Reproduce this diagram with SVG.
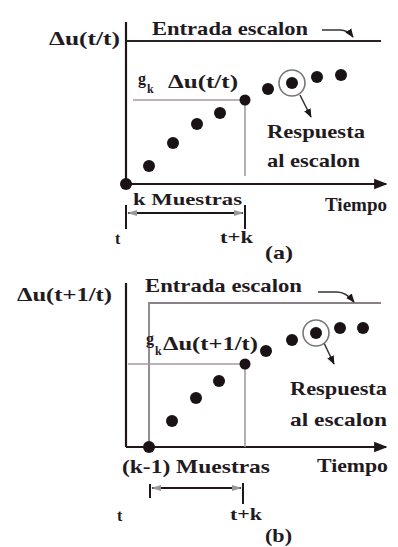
<svg xmlns="http://www.w3.org/2000/svg" width="398" height="547" viewBox="0 0 398 547">
<style>
text{font-family:"Liberation Serif","DejaVu Serif",serif;fill:#221a1e;font-weight:bold}
.lbl{font-size:19px}
.sm{font-size:16px}
.sub{font-size:12px}
.axis{stroke:#1e1619;stroke-width:2.2;fill:none}
.gray{stroke:#a89aa2;stroke-width:1.6;fill:none}
.step{stroke:#2a2226;stroke-width:1.8;fill:none}
.stepb{stroke:#8a8087;stroke-width:1.8;fill:none}
.dot{fill:#1a1216}
.ring{fill:none;stroke:#777;stroke-width:1.6}
.lead{stroke:#333;stroke-width:1.5;fill:none}
.brk{stroke:#1e1619;stroke-width:2;fill:none}
</style>
<defs>
<marker id="ah" viewBox="0 0 10 10" refX="9" refY="5" markerWidth="6" markerHeight="6" orient="auto"><path d="M0,1 L10,5 L0,9 Z" fill="#1e1619"/></marker>
<marker id="ahg" viewBox="0 0 10 10" refX="9" refY="5" markerWidth="5" markerHeight="5" orient="auto-start-reverse"><path d="M0,2 L10,5 L0,8 Z" fill="#999"/></marker>
</defs>

<g id="panel-a">
  <g id="a-connectors">
    <line class="axis" x1="126" y1="22" x2="126" y2="184"/>
    <line class="axis" x1="126" y1="184" x2="386" y2="184" marker-end="url(#ah)"/>
    <line class="step" x1="126" y1="41" x2="381" y2="41"/>
    <polyline class="gray" points="133,100 245,100 245,176"/>
    <path class="lead" d="M322,30 L340,30 Q348,30 353,37" marker-end="url(#ah)"/>
    <line class="lead" x1="300" y1="95" x2="311" y2="117" marker-end="url(#ah)"/>
    <line class="brk" x1="126" y1="205" x2="126" y2="229"/>
    <line class="brk" x1="245" y1="205" x2="245" y2="229"/>
    <line class="brk" x1="128" y1="213" x2="243" y2="213" stroke-width="1.6" marker-start="url(#ahg)" marker-end="url(#ahg)"/>
  </g>
  <g id="a-dots">
    <circle class="dot" cx="126" cy="184" r="6"/>
    <circle class="dot" cx="149" cy="166" r="6"/>
    <circle class="dot" cx="173" cy="143" r="6"/>
    <circle class="dot" cx="197" cy="124" r="6"/>
    <circle class="dot" cx="220" cy="113" r="6"/>
    <circle class="dot" cx="245" cy="100" r="5.5"/>
    <circle class="dot" cx="268" cy="89" r="6"/>
    <circle class="ring" cx="292" cy="83" r="13"/>
    <circle class="dot" cx="292" cy="83" r="6"/>
    <circle class="dot" cx="317" cy="77" r="6"/>
    <circle class="dot" cx="341" cy="75" r="6"/>
  </g>
  <g id="a-labels">
    <text class="lbl" x="49" y="45" textLength="71" lengthAdjust="spacingAndGlyphs">Δu(t/t)</text>
    <text class="lbl" x="152" y="35" textLength="156" lengthAdjust="spacingAndGlyphs">Entrada escalon</text>
    <text class="sm" x="138" y="84">g</text>
    <text class="sub" x="147" y="93">k</text>
    <text class="lbl" x="168" y="88" textLength="70" lengthAdjust="spacingAndGlyphs">Δu(t/t)</text>
    <text class="lbl" x="267" y="138" textLength="98" lengthAdjust="spacingAndGlyphs">Respuesta</text>
    <text class="lbl" x="267" y="167" textLength="93" lengthAdjust="spacingAndGlyphs">al escalon</text>
    <text class="sm" x="133" y="205" textLength="109" lengthAdjust="spacingAndGlyphs">k Muestras</text>
    <text class="lbl" x="325" y="211" textLength="62" lengthAdjust="spacingAndGlyphs">Tiempo</text>
    <text class="sm" x="115" y="244">t</text>
    <text class="sm" x="220" y="243" textLength="33" lengthAdjust="spacingAndGlyphs">t+k</text>
    <text class="lbl" x="265" y="259" textLength="28" lengthAdjust="spacingAndGlyphs">(a)</text>
  </g>
</g>

<g id="panel-b">
  <g id="b-connectors">
    <line class="axis" x1="126" y1="283" x2="126" y2="447"/>
    <line class="axis" x1="126" y1="447" x2="386" y2="447" marker-end="url(#ah)"/>
    <polyline class="stepb" points="149,447 149,303 381,303"/>
    <polyline class="gray" points="128,364 245,364 245,447"/>
    <path class="lead" d="M318,292 L337,292 Q346,292 354,302" marker-end="url(#ah)"/>
    <line class="lead" x1="324" y1="343" x2="334" y2="364" marker-end="url(#ah)"/>
    <line class="brk" x1="150" y1="484" x2="150" y2="498"/>
    <line class="brk" x1="243" y1="483" x2="243" y2="504"/>
    <line class="brk" x1="152" y1="488" x2="241" y2="488" stroke-width="1.6" marker-start="url(#ahg)" marker-end="url(#ahg)"/>
  </g>
  <g id="b-dots">
    <circle class="dot" cx="149" cy="447" r="6"/>
    <circle class="dot" cx="172" cy="421" r="6"/>
    <circle class="dot" cx="196" cy="398" r="6"/>
    <circle class="dot" cx="219" cy="381" r="6"/>
    <circle class="dot" cx="245" cy="364" r="5.5"/>
    <circle class="dot" cx="266" cy="351" r="6"/>
    <circle class="dot" cx="292" cy="340" r="6"/>
    <circle class="ring" cx="316" cy="333" r="13"/>
    <circle class="dot" cx="316" cy="333" r="6"/>
    <circle class="dot" cx="340" cy="328" r="6"/>
    <circle class="dot" cx="363" cy="328" r="6"/>
  </g>
  <g id="b-labels">
    <text class="lbl" x="17" y="301" textLength="95" lengthAdjust="spacingAndGlyphs">Δu(t+1/t)</text>
    <text class="lbl" x="145" y="292" textLength="157" lengthAdjust="spacingAndGlyphs">Entrada escalon</text>
    <text class="sm" x="146" y="344">g</text>
    <text class="sub" x="155" y="355">k</text>
    <text class="lbl" x="163" y="350" textLength="95" lengthAdjust="spacingAndGlyphs">Δu(t+1/t)</text>
    <text class="lbl" x="290" y="395" textLength="97" lengthAdjust="spacingAndGlyphs">Respuesta</text>
    <text class="lbl" x="290" y="426" textLength="97" lengthAdjust="spacingAndGlyphs">al escalon</text>
    <text class="lbl" x="122" y="473" textLength="148" lengthAdjust="spacingAndGlyphs">(k-1) Muestras</text>
    <text class="lbl" x="317" y="472" textLength="71" lengthAdjust="spacingAndGlyphs">Tiempo</text>
    <text class="sm" x="117" y="521">t</text>
    <text class="sm" x="230" y="520" textLength="32" lengthAdjust="spacingAndGlyphs">t+k</text>
    <text class="lbl" x="265" y="542" textLength="27" lengthAdjust="spacingAndGlyphs">(b)</text>
  </g>
</g>
</svg>
